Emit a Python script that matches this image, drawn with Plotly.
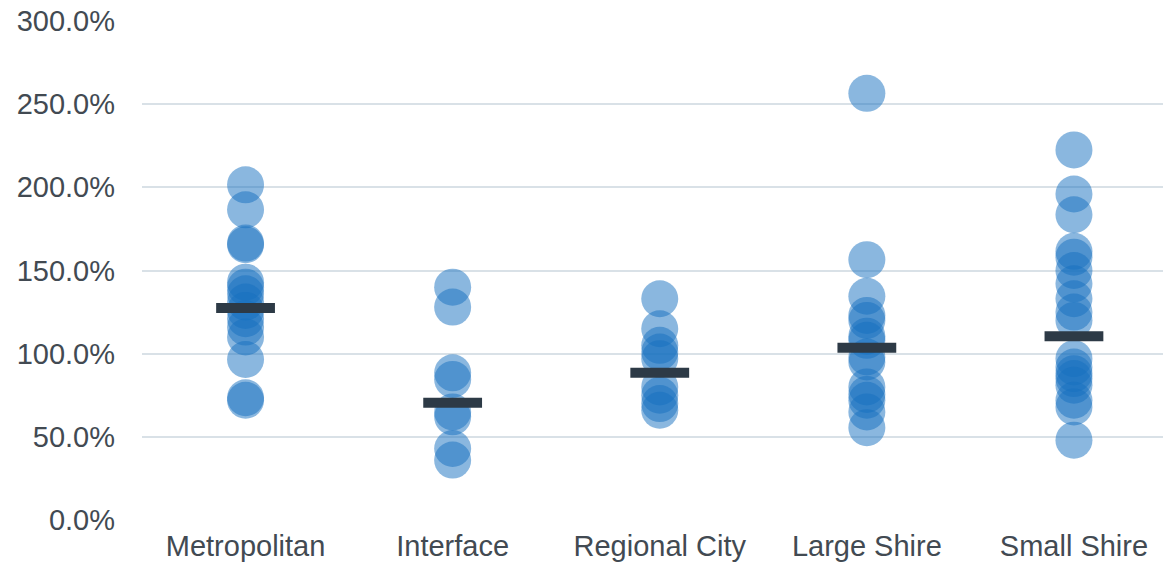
import plotly.graph_objects as go

# Council groups and the ratio observed for each council (percent)
categories = ["Metropolitan", "Interface", "Regional City", "Large Shire", "Small Shire"]

metropolitan = [201.5, 186.5, 166.5, 165.5, 143, 140, 136, 131, 126, 121, 116, 110, 96.5, 73.5, 72]
interface = [140, 128, 88.5, 84.5, 65, 62, 43, 36]
regional_city = [133, 115, 105, 101, 97, 80, 75, 70, 66]
large_shire = [256.5, 156.5, 134.5, 123, 120, 110.5, 108, 98, 95, 80, 75.5, 72, 65, 55.5]
small_shire = [222.5, 196, 183.5, 161.5, 158, 150, 142, 133, 125, 120, 97, 92, 88, 85, 81, 72, 68, 48]

# Group averages shown as horizontal bars
group_means = [127.5, 70.5, 88.5, 103.5, 110.5]

groups = [metropolitan, interface, regional_city, large_shire, small_shire]

fig = go.Figure()

xs, ys = [], []
for i, vals in enumerate(groups):
    xs += [i] * len(vals)
    ys += [v / 100 for v in vals]

fig.add_trace(go.Scatter(
    x=xs, y=ys, mode="markers",
    marker=dict(size=37, color="rgba(22,112,192,0.5)", line=dict(width=0)),
    hoverinfo="y", showlegend=False,
))

fig.add_trace(go.Scatter(
    x=list(range(len(categories))), y=[m / 100 for m in group_means], mode="markers",
    marker=dict(symbol="line-ew", size=42, line=dict(width=10, color="#2d3a46")),
    hoverinfo="y", showlegend=False,
))

fig.update_layout(
    width=1163, height=573,
    margin=dict(l=142, r=0, t=21, b=53),
    paper_bgcolor="white", plot_bgcolor="white",
    font=dict(family="Liberation Sans, Arial, sans-serif", size=29, color="#424a52"),
    xaxis=dict(
        range=[-0.5, 4.43],
        tickmode="array", tickvals=list(range(len(categories))), ticktext=categories,
        showgrid=False, zeroline=False, showline=False,
        ticks="", ticklabelstandoff=6,
    ),
    yaxis=dict(
        range=[0, 3.0], tickmode="linear", dtick=0.5, tick0=0,
        tickformat=".1%",
        showgrid=True, gridcolor="#d9e1e7", gridwidth=1.5,
        zeroline=False, showline=False, ticks="", ticklabelstandoff=26,
    ),
)

fig.write_html("out.html")
